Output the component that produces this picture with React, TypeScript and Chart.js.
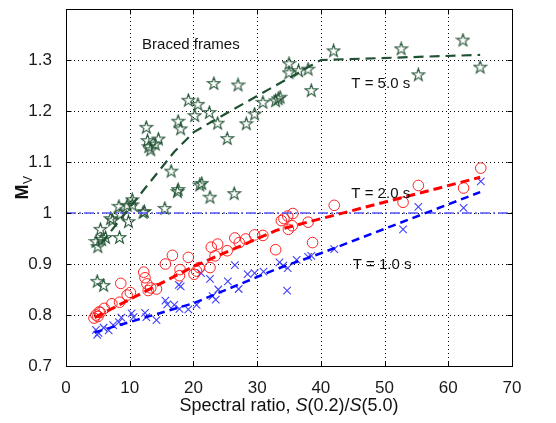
import React, { useEffect, useRef } from "react";
import { Chart, registerables } from "chart.js";

Chart.register(...registerables);

// ---- data ----
const xTicks = [0, 10, 20, 30, 40, 50, 60, 70];
const yTicks = [0.7, 0.8, 0.9, 1.0, 1.1, 1.2, 1.3, 1.4];

// T = 5.0 s (stars)
const t5Points: [number, number][] = [
  [4.7, 0.944], [5.0, 0.934], [5.4, 0.968], [5.6, 0.948], [6.2, 0.952], [4.9, 0.866], [5.9, 0.858],
  [7.0, 0.989], [7.3, 0.986], [8.3, 1.013], [8.4, 0.952], [8.5, 0.998], [9.6, 1.015], [9.8, 0.983],
  [10.4, 1.016], [10.4, 1.026], [12.3, 1.003], [12.1, 1.001], [15.5, 1.009], [12.6, 1.168],
  [12.8, 1.142], [13.3, 1.124], [14.0, 1.135], [14.5, 1.145], [13.0, 1.13], [16.5, 1.082],
  [17.6, 1.046], [17.5, 1.042], [18.0, 1.165], [17.6, 1.18], [19.2, 1.221], [20.7, 1.213],
  [20.2, 1.191], [21.0, 1.055], [21.3, 1.058], [22.6, 1.031], [26.4, 1.038], [22.5, 1.197],
  [23.2, 1.254], [23.8, 1.176], [25.3, 1.146], [27.0, 1.251], [28.3, 1.175], [29.6, 1.194],
  [30.9, 1.217], [32.9, 1.22], [33.3, 1.224], [33.6, 1.227], [35.0, 1.293], [35.0, 1.275],
  [36.5, 1.279], [38.0, 1.282], [38.5, 1.24], [42.0, 1.318], [52.6, 1.322], [55.3, 1.271],
  [62.3, 1.339], [65.0, 1.286],
];

// T = 2.0 s (circles)
const t2Points: [number, number][] = [
  [4.4, 0.794], [4.7, 0.8], [5.0, 0.797], [5.2, 0.806], [5.4, 0.805], [6.0, 0.813], [7.2, 0.822],
  [8.4, 0.825], [8.6, 0.862], [9.6, 0.839], [10.1, 0.844], [12.2, 0.884], [12.4, 0.873],
  [12.7, 0.861], [12.9, 0.848], [13.3, 0.853], [14.2, 0.851], [15.6, 0.9], [16.7, 0.917],
  [17.8, 0.877], [17.9, 0.889], [19.2, 0.913], [20.1, 0.88], [20.5, 0.886], [20.9, 0.893],
  [22.6, 0.893], [22.8, 0.933], [23.8, 0.939], [23.4, 0.916], [25.3, 0.926], [26.5, 0.951],
  [27.2, 0.942], [28.2, 0.949], [29.6, 0.957], [30.9, 0.956], [32.9, 0.928], [33.8, 0.985],
  [34.8, 0.994], [34.2, 0.989], [34.9, 0.968], [35.5, 0.975], [35.6, 0.999], [38.0, 0.982],
  [38.7, 0.942], [42.1, 1.015], [52.9, 1.021], [55.3, 1.054], [62.4, 1.049], [65.1, 1.088],
];

// T = 1.0 s (crosses)
const t1Points: [number, number][] = [
  [4.7, 0.771], [4.9, 0.761], [5.1, 0.765], [5.9, 0.775], [6.7, 0.77], [7.4, 0.78], [8.3, 0.786],
  [8.7, 0.795], [10.3, 0.803], [10.6, 0.796], [12.4, 0.804], [12.6, 0.796], [14.2, 0.79],
  [15.6, 0.828], [15.9, 0.821], [17.7, 0.859], [18.0, 0.856], [17.0, 0.82], [17.8, 0.812],
  [19.2, 0.811], [20.5, 0.82], [21.2, 0.882], [22.6, 0.871], [23.0, 0.837], [23.5, 0.83],
  [23.9, 0.85], [25.4, 0.866], [26.5, 0.898], [27.1, 0.851], [28.5, 0.88], [29.6, 0.882],
  [31.0, 0.885], [33.5, 0.903], [34.1, 0.897], [34.8, 0.892], [34.7, 0.848], [36.2, 0.908],
  [38.0, 0.914], [38.5, 0.916], [42.1, 0.929], [52.9, 0.968], [55.3, 1.012], [62.4, 1.01],
  [65.1, 1.062],
];

// fitted trends
const t5Fit: [number, number][] = [[5.5, 0.94], [12.5, 1.05], [17, 1.12], [20, 1.158], [23, 1.18], [40, 1.3], [65, 1.31]];
const t2Fit: [number, number][] = [[4.5, 0.795], [20, 0.895], [33, 0.966], [65, 1.07]];
const t1Fit: [number, number][] = [[4.5, 0.766], [20, 0.823], [33, 0.89], [40, 0.921], [65, 1.041]];
const refLine: [number, number][] = [[0, 1], [70, 1]];

const labels = [
  { text: "Braced frames", x: 19.6, y: 1.329 },
  { text: "T = 5.0 s", x: 49.4, y: 1.254 },
  { text: "T = 2.0 s", x: 49.4, y: 1.038 },
  { text: "T = 1.0 s", x: 49.6, y: 0.898 },
];

const toXY = (a: [number, number][]) => a.map(([x, y]) => ({ x, y }));

function makeStar(): HTMLCanvasElement {
  const c = document.createElement("canvas");
  c.width = 15;
  c.height = 15;
  const g = c.getContext("2d")!;
  const cx = 7.5, cy = 7.8, R = 6.6, r = 2.6;
  g.beginPath();
  for (let i = 0; i < 10; i++) {
    const ang = -Math.PI / 2 + (i * Math.PI) / 5;
    const rad = i % 2 === 0 ? R : r;
    const px = cx + rad * Math.cos(ang);
    const py = cy + rad * Math.sin(ang);
    if (i === 0) g.moveTo(px, py);
    else g.lineTo(px, py);
  }
  g.closePath();
  g.strokeStyle = "#1f5132";
  g.lineWidth = 1.1;
  g.stroke();
  return c;
}

const FONT = "'Liberation Sans', Arial, sans-serif";

const framePlugin = {
  id: "framePlugin",
  beforeDatasetsDraw(chart: any) {
    const { ctx, chartArea, scales } = chart;
    const { left, right, top, bottom } = chartArea;
    ctx.save();
    ctx.strokeStyle = "#000";
    ctx.lineWidth = 1;
    ctx.setLineDash([1, 3]);
    ctx.beginPath();
    xTicks.slice(1, -1).forEach((v) => {
      const p = Math.round(scales.x.getPixelForValue(v)) + 0.5;
      ctx.moveTo(p, Math.round(top));
      ctx.lineTo(p, Math.round(bottom));
    });
    yTicks.slice(1, -1).forEach((v) => {
      const p = Math.round(scales.y.getPixelForValue(v)) + 0.5;
      ctx.moveTo(Math.round(left), p);
      ctx.lineTo(Math.round(right), p);
    });
    ctx.stroke();
    ctx.restore();
  },
  afterDraw(chart: any) {
    const { ctx, chartArea, scales } = chart;
    const { left, right, top, bottom } = chartArea;
    ctx.save();
    ctx.strokeStyle = "#000";
    ctx.lineWidth = 1;
    const L = Math.round(left) + 0.5, R = Math.round(right) + 0.5;
    const T = Math.round(top) + 0.5, B = Math.round(bottom) + 0.5;
    ctx.strokeRect(L, T, R - L, B - T);
    ctx.beginPath();
    xTicks.forEach((v) => {
      const p = Math.round(scales.x.getPixelForValue(v)) + 0.5;
      ctx.moveTo(p, B); ctx.lineTo(p, B - 5);
      ctx.moveTo(p, T); ctx.lineTo(p, T + 5);
    });
    yTicks.forEach((v) => {
      const p = Math.round(scales.y.getPixelForValue(v)) + 0.5;
      ctx.moveTo(L, p); ctx.lineTo(L + 5, p);
      ctx.moveTo(R, p); ctx.lineTo(R - 5, p);
    });
    ctx.stroke();

    // x title with italic S
    const parts: [string, boolean][] = [
      ["Spectral ratio, ", false], ["S", true], ["(0.2)/", false], ["S", true], ["(5.0)", false],
    ];
    const fN = `18px ${FONT}`, fI = `italic 18px ${FONT}`;
    let total = 0;
    parts.forEach(([t, it]) => { ctx.font = it ? fI : fN; total += ctx.measureText(t).width; });
    let xx = (left + right) / 2 - total / 2;
    ctx.fillStyle = "#111";
    ctx.textBaseline = "middle";
    ctx.textAlign = "left";
    parts.forEach(([t, it]) => {
      ctx.font = it ? fI : fN;
      ctx.fillText(t, xx, 406);
      xx += ctx.measureText(t).width;
    });

    // y title M_V
    ctx.save();
    ctx.translate(22, 188);
    ctx.rotate(-Math.PI / 2);
    ctx.font = `bold 18px ${FONT}`;
    const mw = ctx.measureText("M").width;
    ctx.font = `12px ${FONT}`;
    const vw = ctx.measureText("V").width;
    const start = -(mw + vw) / 2;
    ctx.textBaseline = "alphabetic";
    ctx.font = `bold 18px ${FONT}`;
    ctx.fillText("M", start, 6);
    ctx.font = `12px ${FONT}`;
    ctx.fillText("V", start + mw + 0.5, 10);
    ctx.restore();
    ctx.restore();
  },
  afterDatasetsDraw(chart: any) {
    const { ctx, scales } = chart;
    ctx.save();
    ctx.font = `15px ${FONT}`;
    ctx.fillStyle = "#111";
    ctx.textAlign = "center";
    ctx.textBaseline = "middle";
    labels.forEach((l) => {
      ctx.fillText(l.text, scales.x.getPixelForValue(l.x), scales.y.getPixelForValue(l.y));
    });
    ctx.restore();
  },
};

export default function App() {
  const ref = useRef<HTMLCanvasElement | null>(null);
  useEffect(() => {
    if (!ref.current) return;
    const star = makeStar();
    const chart = new Chart(ref.current, {
      type: "scatter",
      data: {
        datasets: [
          {
            data: toXY(t2Fit), showLine: true, pointRadius: 0, borderColor: "#ff0000",
            borderWidth: 3, borderDash: [9, 5], fill: false,
          } as any,
          {
            data: toXY(t1Fit), showLine: true, pointRadius: 0, borderColor: "#0000ff",
            borderWidth: 2.5, borderDash: [8, 5], fill: false,
          } as any,
          {
            data: toXY(t5Fit), showLine: true, pointRadius: 0, borderColor: "#1f5132",
            borderWidth: 2.2, borderDash: [10, 6], fill: false,
          } as any,
          {
            data: toXY(refLine), showLine: true, pointRadius: 0, borderColor: "#5555ff",
            borderWidth: 1.5, borderDash: [10, 3, 2, 3], fill: false,
          } as any,
          {
            data: toXY(t5Points), pointStyle: star, pointRadius: 7,
          } as any,
          {
            data: toXY(t2Points), pointStyle: "circle", pointRadius: 5.3,
            borderColor: "#ff2020", backgroundColor: "rgba(0,0,0,0)", borderWidth: 1,
          } as any,
          {
            data: toXY(t1Points), pointStyle: "crossRot", pointRadius: 5.3,
            borderColor: "#4040ff", borderWidth: 1.1,
          } as any,
        ],
      },
      options: {
        animation: false,
        responsive: false,
        devicePixelRatio: 1,
        layout: { padding: { top: 9, right: 44, left: 0, bottom: 0 } },
        plugins: { legend: { display: false }, tooltip: { enabled: false } },
        scales: {
          x: {
            type: "linear", min: 0, max: 70,
            afterBuildTicks: (s: any) => { s.ticks = xTicks.map((v) => ({ value: v })); },
            afterFit: (s: any) => { s.height = 57; s.paddingLeft = 0; s.paddingRight = 0; },
            ticks: { font: { size: 17, family: FONT }, color: "#1a1a1a", padding: 4, callback: (v: any) => String(v) },
            grid: { display: false },
            border: { display: false },
          },
          y: {
            type: "linear", min: 0.7, max: 1.4,
            afterBuildTicks: (s: any) => { s.ticks = yTicks.map((v) => ({ value: v })); },
            afterFit: (s: any) => { s.width = 66; s.paddingTop = 0; s.paddingBottom = 0; },
            ticks: {
              font: { size: 17, family: FONT }, color: "#1a1a1a", padding: 6,
              callback: (v: any) => (Math.abs(v - 1.4) < 1e-6 ? "" : String(Math.round(v * 10) / 10)),
            },
            grid: { display: false },
            border: { display: false },
          },
        },
      },
      plugins: [framePlugin],
    });
    return () => chart.destroy();
  }, []);
  return (
    <div style={{ position: "absolute", left: 0, top: 0, width: 556, height: 423, background: "#fff" }}>
      <canvas ref={ref} width={556} height={423} style={{ display: "block" }} />
    </div>
  );
}
